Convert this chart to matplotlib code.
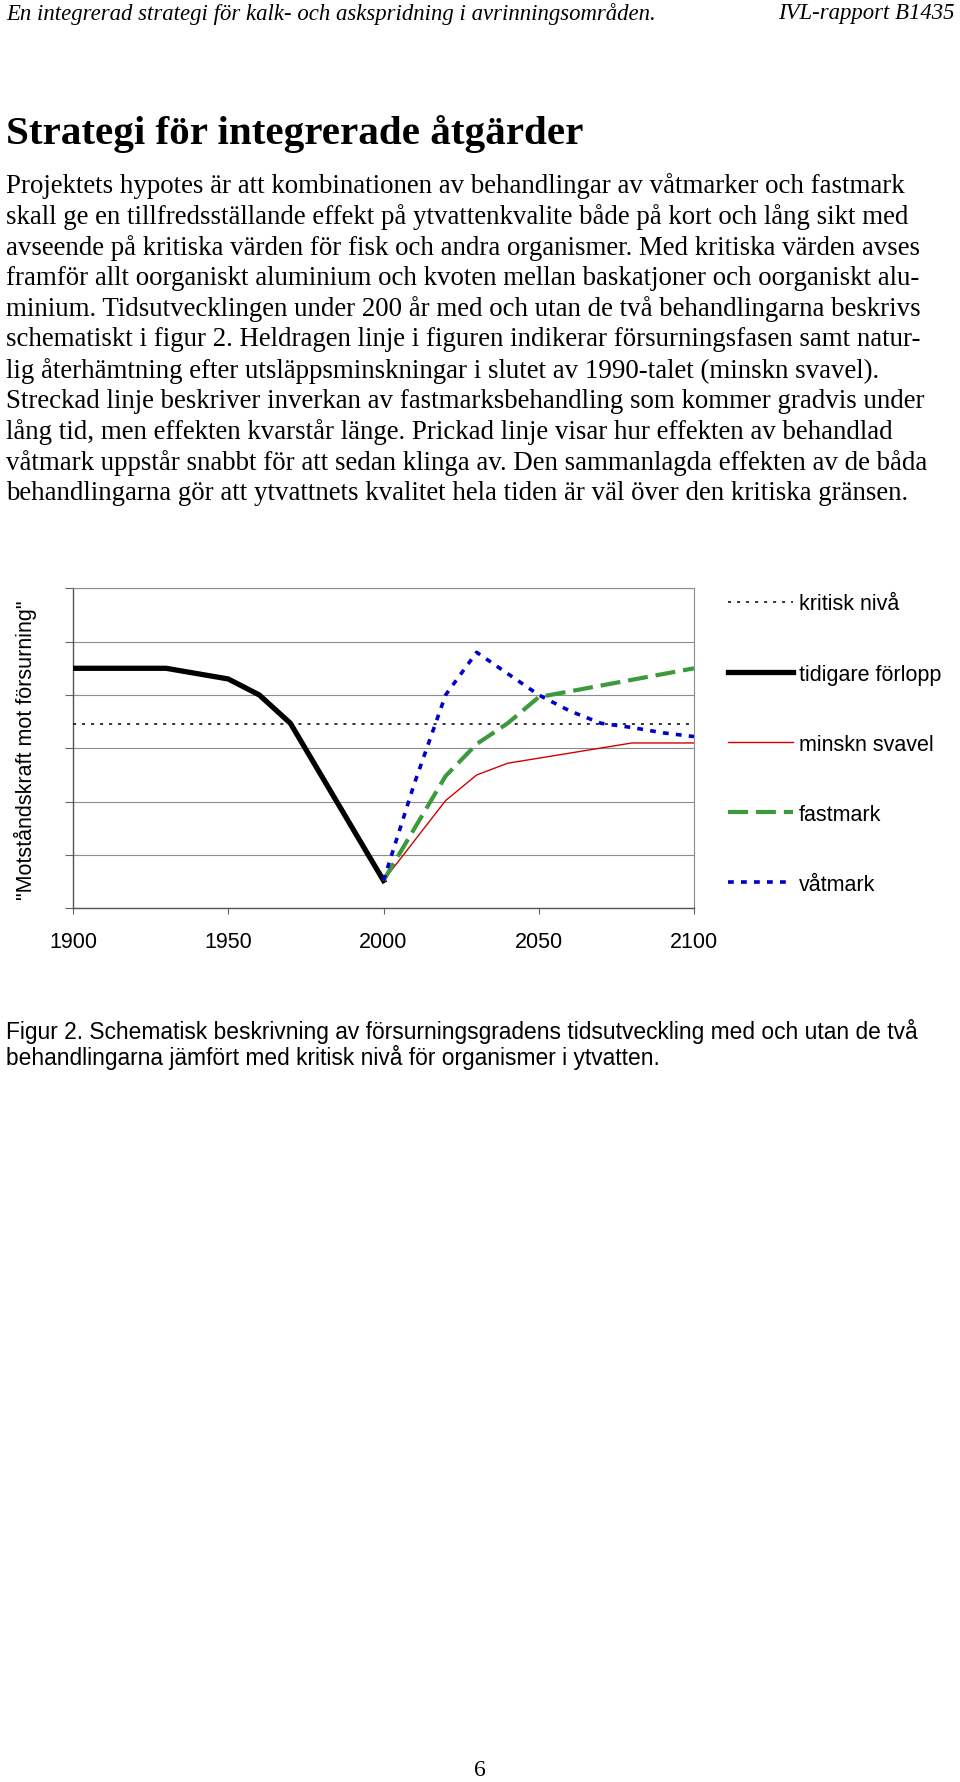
import matplotlib
matplotlib.use('Agg')
import matplotlib.pyplot as plt

# Data (arbitrary "resistance" units, 0-6 scale)
hist_years = [1900, 1930, 1950, 1960, 1970, 2000]
hist_vals = [4.5, 4.5, 4.3, 4.0, 3.47, 0.52]

crit_years = [1900, 2100]
crit_vals = [3.46, 3.46]

svavel_years = [2000, 2020, 2030, 2040, 2080, 2100]
svavel_vals = [0.52, 2.02, 2.5, 2.72, 3.1, 3.1]

fast_years = [2000, 2010, 2020, 2030, 2040, 2050, 2100]
fast_vals = [0.52, 1.5, 2.48, 3.08, 3.47, 3.96, 4.5]

vat_years = [2000, 2010, 2020, 2030, 2050, 2060, 2070, 2080, 2090, 2100]
vat_vals = [0.52, 2.35, 4.0, 4.8, 4.0, 3.7, 3.47, 3.39, 3.29, 3.22]

x_ticks = [1900, 1950, 2000, 2050, 2100]

header_left = 'En integrerad strategi för kalk- och askspridning i avrinningsområden.'
header_right = 'IVL-rapport B1435'
title = 'Strategi för integrerade åtgärder'
body_lines = [
    'Projektets hypotes är att kombinationen av behandlingar av våtmarker och fastmark',
    'skall ge en tillfredsställande effekt på ytvattenkvalite både på kort och lång sikt med',
    'avseende på kritiska värden för fisk och andra organismer. Med kritiska värden avses',
    'framför allt oorganiskt aluminium och kvoten mellan baskatjoner och oorganiskt alu-',
    'minium. Tidsutvecklingen under 200 år med och utan de två behandlingarna beskrivs',
    'schematiskt i figur 2. Heldragen linje i figuren indikerar försurningsfasen samt natur-',
    'lig återhämtning efter utsläppsminskningar i slutet av 1990-talet (minskn svavel).',
    'Streckad linje beskriver inverkan av fastmarksbehandling som kommer gradvis under',
    'lång tid, men effekten kvarstår länge. Prickad linje visar hur effekten av behandlad',
    'våtmark uppstår snabbt för att sedan klinga av. Den sammanlagda effekten av de båda',
    'behandlingarna gör att ytvattnets kvalitet hela tiden är väl över den kritiska gränsen.',
]
caption_lines = [
    'Figur 2. Schematisk beskrivning av försurningsgradens tidsutveckling med och utan de två',
    'behandlingarna jämfört med kritisk nivå för organismer i ytvatten.',
]

W, H = 960, 1783
fig = plt.figure(figsize=(W / 100, H / 100), dpi=100)
fig.patch.set_facecolor('white')

def fy(px):
    return 1 - px / H

# Page text
fig.text(6 / W, fy(14), header_left, family='Liberation Serif', style='italic',
         fontsize=16.4, va='center', ha='left')
fig.text(955 / W, fy(14), header_right, family='Liberation Serif', style='italic',
         fontsize=16.4, va='center', ha='right')
fig.text(6 / W, fy(134), title, family='Liberation Serif', weight='bold',
         fontsize=29.6, va='center', ha='left')
for i, line in enumerate(body_lines):
    fig.text(6 / W, fy(186.5 + 30.7 * i), line, family='Liberation Serif',
             fontsize=19.4, va='center', ha='left')
for i, line in enumerate(caption_lines):
    fig.text(6 / W, fy(1032 + 26 * i), line, family='Liberation Sans',
             fontsize=16.4, va='center', ha='left')
fig.text(480 / W, fy(1771), '6', family='Liberation Serif', fontsize=17,
         va='center', ha='center')

# Chart
ax = fig.add_axes([73 / W, fy(909.3), (694 - 73) / W, (909.3 - 589.3) / H])
ax.plot(crit_years, crit_vals, color='black', lw=1.1, dashes=(2, 3.9),
        label='kritisk nivå', zorder=3)
ax.plot(hist_years, hist_vals, color='black', lw=3.8, label='tidigare förlopp', zorder=4)
ax.plot(svavel_years, svavel_vals, color='#d40000', lw=1.0, label='minskn svavel', zorder=4)
ax.plot(fast_years, fast_vals, color='#3c9a3c', lw=3.0, dashes=(4.8, 1.9),
        label='fastmark', zorder=5)
ax.plot(vat_years, vat_vals, color='#0000cc', lw=2.6, dashes=(1.6, 2.0),
        label='våtmark', zorder=6)

ax.set_xlim(1900, 2100)
ax.set_ylim(0, 6)
ax.set_xticks(x_ticks)
ax.set_xticklabels([str(t) for t in x_ticks], family='Liberation Sans', fontsize=15.5)
ax.set_yticks(range(0, 7))
ax.set_yticklabels([])
ax.tick_params(axis='x', length=4.5, width=0.8, color='#666666', pad=12)
ax.tick_params(axis='y', length=6, width=0.8, color='#666666')
ax.grid(axis='y', color='#8c8c8c', lw=0.8)
for side in ['left', 'bottom']:
    ax.spines[side].set_color('#555555')
    ax.spines[side].set_linewidth(1.0)
for side in ['top', 'right']:
    ax.spines[side].set_color('#8c8c8c')
    ax.spines[side].set_linewidth(0.8)

fig.text(25 / W, fy(750), '"Motståndskraft mot försurning"', family='Liberation Sans',
         fontsize=15.5, rotation=90, va='center', ha='center')

fig.legend(loc='upper left', bbox_to_anchor=(728 / W, fy(594.5)), frameon=False,
           prop={'family': 'Liberation Sans', 'size': 15.5}, handlelength=3.0,
           handletextpad=0.3, labelspacing=2.28, borderpad=0, borderaxespad=0)

fig.savefig('out.png', dpi=100)
